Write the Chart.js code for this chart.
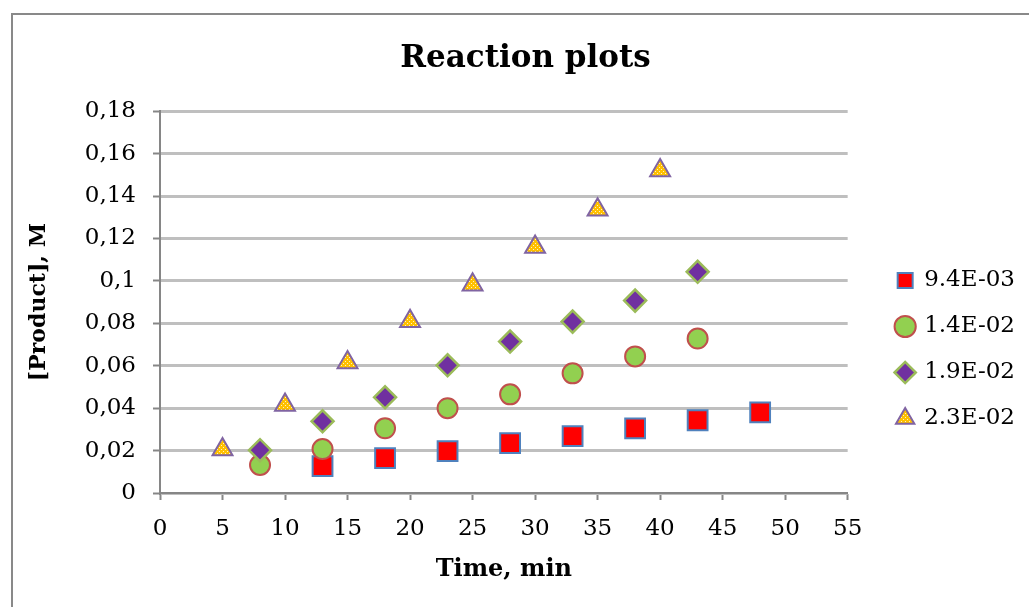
<!DOCTYPE html>
<html>
<head>
<meta charset="utf-8">
<script src="https://cdn.jsdelivr.net/npm/chart.js@4"></script>
<style>
  html, body { margin: 0; padding: 0; background: #fff; }
  #wrap { width: 1029px; height: 607px; }
</style>
</head>
<body>
<div id="wrap"><canvas id="reactionCanvas" width="1029" height="607"></canvas></div>
<script>
// Données
const seriesNames = ["9.4E-03", "1.4E-02", "1.9E-02", "2.3E-02"];
const time1 = [13, 18, 23, 28, 33, 38, 43, 48];
const prod1 = [0.0127, 0.0164, 0.0197, 0.0235, 0.0268, 0.0305, 0.0343, 0.038];
const time2 = [8, 13, 18, 23, 28, 33, 38, 43];
const prod2 = [0.0132, 0.0207, 0.0305, 0.040, 0.0465, 0.0564, 0.0644, 0.0728];
const time3 = [8, 13, 18, 23, 28, 33, 38, 43];
const prod3 = [0.0202, 0.0338, 0.0451, 0.0602, 0.0714, 0.0808, 0.0907, 0.1043];
const time4 = [5, 10, 15, 20, 25, 30, 35, 40];
const prod4 = [0.0205, 0.0415, 0.0615, 0.081, 0.0982, 0.116, 0.1335, 0.152];
const yTickLabels = ["0", "0,02", "0,04", "0,06", "0,08", "0,1", "0,12", "0,14", "0,16", "0,18"];

const toPoints = (xs, ys) => xs.map((x, i) => ({ x: x, y: ys[i] }));

// Motif pointillé pour les triangles
function dottedPattern() {
    const c = document.createElement("canvas");
    c.width = 4; c.height = 4;
    const g = c.getContext("2d");
    g.fillStyle = "#FFC000";
    g.fillRect(0, 0, 4, 4);
    g.fillStyle = "#FFF3C4";
    g.fillRect(1, 1, 1, 1);
    g.fillRect(3, 3, 1, 1);
    return g.createPattern(c, "repeat");
}

// Cadre gris du graphique
const framePlugin = {
    id: "frame",
    beforeDraw(chart) {
        const ctx = chart.ctx;
        ctx.save();
        ctx.strokeStyle = "#898989";
        ctx.lineWidth = 2;
        ctx.beginPath();
        ctx.moveTo(12, 607);
        ctx.lineTo(12, 14);
        ctx.lineTo(1029, 14);
        ctx.stroke();
        ctx.restore();
    }
};

// Décale la légende et le titre
const shiftBoxes = {
    id: "shiftBoxes",
    afterLayout(chart) {
        const lg = chart.legend;
        lg.top += 46;
        lg.bottom += 46;
        lg.left += 27;
        lg.right += 27;
        const tb = chart.titleBlock;
        tb.left += 20;
        tb.right += 20;
    }
};

const serif = "'DejaVu Serif', serif";

const reactionChart = new Chart(document.getElementById("reactionCanvas"), {
    type: "scatter",
    data: {
        datasets: [
            {
                label: seriesNames[0],
                data: toPoints(time1, prod1),
                pointStyle: "rect",
                pointRadius: 14,
                backgroundColor: "#FF0000",
                borderColor: "#4F81BD",
                borderWidth: 2,
                order: 4
            },
            {
                label: seriesNames[1],
                data: toPoints(time2, prod2),
                pointStyle: "circle",
                pointRadius: 10,
                backgroundColor: "#92D050",
                borderColor: "#C0504D",
                borderWidth: 2,
                order: 3
            },
            {
                label: seriesNames[2],
                data: toPoints(time3, prod3),
                pointStyle: "rectRot",
                pointRadius: 11,
                backgroundColor: "#7030A0",
                borderColor: "#9BBB59",
                borderWidth: 2.5,
                order: 2
            },
            {
                label: seriesNames[3],
                data: toPoints(time4, prod4),
                pointStyle: "triangle",
                pointRadius: 11.5,
                backgroundColor: dottedPattern(),
                borderColor: "#8064A2",
                borderWidth: 2,
                order: 1
            }
        ]
    },
    options: {
        responsive: false,
        animation: false,
        layout: { padding: { left: 13, right: 31, top: 0, bottom: 0 } },
        plugins: {
            title: {
                display: true,
                text: "Reaction plots",
                color: "#000",
                font: { family: serif, size: 31, weight: "bold" },
                padding: { top: 40, bottom: 34 }
            },
            legend: {
                position: "right",
                labels: {
                    usePointStyle: true,
                    boxWidth: 15,
                    boxHeight: 15,
                    padding: 23,
                    color: "#000",
                    font: { family: serif, size: 23 },
                    sort: (a, b) => a.datasetIndex - b.datasetIndex
                }
            },
            tooltip: { enabled: false }
        },
        scales: {
            x: {
                type: "linear",
                min: 0,
                max: 55,
                afterFit(scale) { scale.height = 114; },
                ticks: {
                    stepSize: 5,
                    padding: 15,
                    color: "#000",
                    font: { family: serif, size: 23 }
                },
                grid: {
                    drawOnChartArea: false,
                    tickLength: 7,
                    tickColor: "#868686",
                    tickWidth: 2
                },
                border: { color: "#868686", width: 2 },
                title: {
                    display: true,
                    text: "Time, min",
                    color: "#000",
                    font: { family: serif, size: 24, weight: "bold" },
                    padding: { top: 8, bottom: 23 }
                }
            },
            y: {
                type: "linear",
                min: 0,
                max: 0.18,
                afterFit(scale) { scale.width = 147; },
                ticks: {
                    stepSize: 0.02,
                    padding: 17,
                    color: "#000",
                    font: { family: serif, size: 23 },
                    callback: (v) => yTickLabels[Math.round(v / 0.02)]
                },
                grid: {
                    color: "#BFBFBF",
                    lineWidth: 3,
                    tickLength: 7,
                    tickColor: "#868686",
                    tickWidth: 2
                },
                border: { color: "#868686", width: 2 },
                title: {
                    display: true,
                    text: "[Product], M",
                    color: "#000",
                    font: { family: serif, size: 22, weight: "bold" },
                    padding: { top: 13, bottom: 4 }
                }
            }
        }
    },
    plugins: [framePlugin, shiftBoxes]
});
</script>
</body>
</html>
